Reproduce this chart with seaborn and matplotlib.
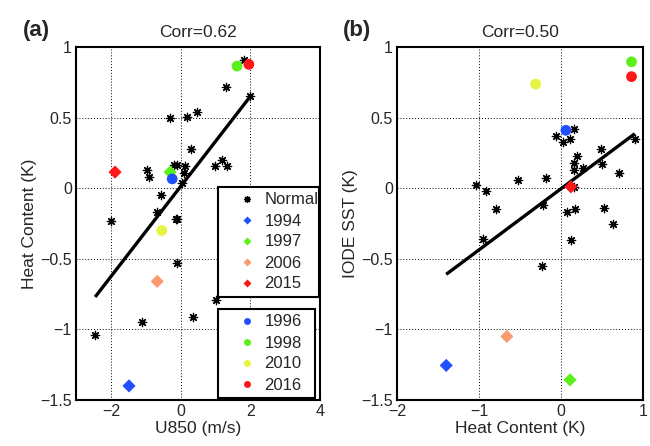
import numpy as np
import pandas as pd
import matplotlib
matplotlib.use("Agg")
import matplotlib.pyplot as plt
import seaborn as sns
from matplotlib.lines import Line2D

# panel (a): U850 vs Heat Content, normal years
a_norm_x = [1.83, 1.30, 2.00, -0.29, 0.19, 0.46, 0.31, -0.97, -0.92, -0.19, -0.10, 0.12,
            0.10, 0.05, 0.98, 1.19, 1.33, -0.57, -0.67, -0.14, -0.10, -2.00, -0.10, 1.03,
            0.35, -1.10, -2.45]
a_norm_y = [0.91, 0.72, 0.65, 0.50, 0.505, 0.54, 0.28, 0.126, 0.08, 0.166, 0.166, 0.16,
            0.11, 0.035, 0.16, 0.20, 0.156, -0.05, -0.17, -0.22, -0.22, -0.23, -0.53, -0.79,
            -0.91, -0.95, -1.04]

# panel (b): Heat Content vs IODE SST, normal years
b_norm_x = [0.155, -0.06, 0.02, 0.11, 0.49, 0.90, 0.20, 0.155, 0.155, 0.27, 0.50, 0.71,
            -1.04, -0.91, -0.53, -0.18, 0.16, -0.79, -0.22, 0.07, 0.17, 0.53, 0.64, -0.95,
            0.12, -0.23]
b_norm_y = [0.42, 0.367, 0.33, 0.35, 0.28, 0.35, 0.23, 0.18, 0.13, 0.14, 0.17, 0.11,
            0.02, -0.02, 0.06, 0.07, 0.01, -0.15, -0.12, -0.17, -0.15, -0.14, -0.25, -0.36,
            -0.365, -0.55]

# special years
diamond_years = ["1994", "1997", "2006", "2015"]
circle_years = ["1996", "1998", "2010", "2016"]
diamond_colors = ["#1f4fff", "#5cf01a", "#f99b6e", "#ff1616"]
circle_colors = ["#1f4fff", "#5cf01a", "#e6f540", "#ff1616"]

a_dia_x = [-1.48, -0.30, -0.67, -1.88]
a_dia_y = [-1.40, 0.114, -0.66, 0.114]
a_cir_x = [-0.24, 1.62, -0.54, 1.96]
a_cir_y = [0.066, 0.865, -0.30, 0.877]

b_dia_x = [-1.40, 0.11, -0.66, 0.12]
b_dia_y = [-1.255, -1.357, -1.05, 0.01]
b_cir_x = [0.06, 0.86, -0.31, 0.86]
b_cir_y = [0.41, 0.895, 0.737, 0.79]

# regression line end points
a_line_x = [-2.45, 2.00]
a_line_y = [-0.77, 0.65]
b_line_x = [-1.40, 0.90]
b_line_y = [-0.61, 0.386]

titles = ["Corr=0.62", "Corr=0.50"]
panel_tags = ["(a)", "(b)"]

sns.set_style("white")
plt.rcParams['font.family'] = ['Liberation Sans', 'DejaVu Sans']
plt.rcParams['font.size'] = 11.5
plt.rcParams['axes.unicode_minus'] = True

fig = plt.figure(figsize=(6.5, 4.46), dpi=100)
ax1 = fig.add_axes([76 / 650, 46 / 446, 244 / 650, 353 / 446])
ax2 = fig.add_axes([397 / 650, 46 / 446, 246 / 650, 353 / 446])

star = (8, 2, 0)


def draw_panel(ax, nx, ny, dx, dy, cx, cy, lx, ly):
    ax.plot(lx, ly, color='k', lw=2.4, zorder=2, solid_capstyle='butt')
    sns.scatterplot(x=nx, y=ny, ax=ax, marker=star, s=36, color='k',
                    edgecolor='k', linewidth=0.9, zorder=3, legend=False)
    df_d = pd.DataFrame({'x': dx, 'y': dy, 'year': diamond_years})
    sns.scatterplot(data=df_d, x='x', y='y', hue='year', palette=diamond_colors,
                    marker='D', s=45, edgecolor='none', ax=ax, zorder=4, legend=False)
    df_c = pd.DataFrame({'x': cx, 'y': cy, 'year': circle_years})
    sns.scatterplot(data=df_c, x='x', y='y', hue='year', palette=circle_colors,
                    marker='o', s=60, edgecolor='none', ax=ax, zorder=4, legend=False)
    ax.set_ylim(-1.5, 1)
    ax.set_yticks([-1.5, -1, -0.5, 0, 0.5, 1])
    ax.set_yticklabels(['−1.5', '−1', '−0.5', '0', '0.5', '1'])
    ax.grid(True, color='k', linestyle=(0, (1, 2)), lw=0.7)
    ax.tick_params(direction='in', length=4, width=1, labelsize=11.5, pad=3)
    for sp in ax.spines.values():
        sp.set_linewidth(1.5)
        sp.set_color('k')
    ax.set_axisbelow(True)


draw_panel(ax1, a_norm_x, a_norm_y, a_dia_x, a_dia_y, a_cir_x, a_cir_y, a_line_x, a_line_y)
ax1.set_xlim(-3, 4)
ax1.set_xticks([-2, 0, 2, 4])
ax1.set_xlabel("U850 (m/s)", fontsize=12.5, labelpad=1)
ax1.set_ylabel("Heat Content (K)", fontsize=12.5, labelpad=2)

draw_panel(ax2, b_norm_x, b_norm_y, b_dia_x, b_dia_y, b_cir_x, b_cir_y, b_line_x, b_line_y)
ax2.set_xlim(-2, 1)
ax2.set_xticks([-2, -1, 0, 1])
ax2.set_xlabel("Heat Content (K)", fontsize=12.5, labelpad=1)
ax2.set_ylabel("IODE SST (K)", fontsize=12.5, labelpad=2)

for ax, t in zip([ax1, ax2], titles):
    ax.set_title(t, fontsize=12.5, pad=7)

fig.text(23 / 650, 1 - 36 / 446, panel_tags[0], fontsize=16, fontweight='bold')
fig.text(343 / 650, 1 - 36 / 446, panel_tags[1], fontsize=16, fontweight='bold')

# legends in panel (a)
leg_kw = dict(loc='upper left', mode='expand', frameon=True, fancybox=False,
              edgecolor='k', framealpha=1, fontsize=12, handlelength=2.8,
              handletextpad=-0.35, borderpad=0.33, labelspacing=0.36, borderaxespad=0)

h1 = [Line2D([], [], ls='none', marker=star, color='k', ms=5, mew=0.9)]
h1 += [Line2D([], [], ls='none', marker='D', color=c, ms=4, mec='none') for c in diamond_colors]
leg1 = ax1.legend(h1, ["Normal"] + diamond_years,
                  bbox_to_anchor=(142 / 244, 1 - 250 / 353, 101 / 244, 110 / 353), **leg_kw)
leg1.get_frame().set_linewidth(1.5)
ax1.add_artist(leg1)

h2 = [Line2D([], [], ls='none', marker='o', color=c, ms=5, mec='none') for c in circle_colors]
leg2 = ax1.legend(h2, circle_years,
                  bbox_to_anchor=(142 / 244, 1 - 350 / 353, 97 / 244, 88 / 353), **leg_kw)
leg2.get_frame().set_linewidth(1.5)

fig.savefig("out.png", dpi=100)
